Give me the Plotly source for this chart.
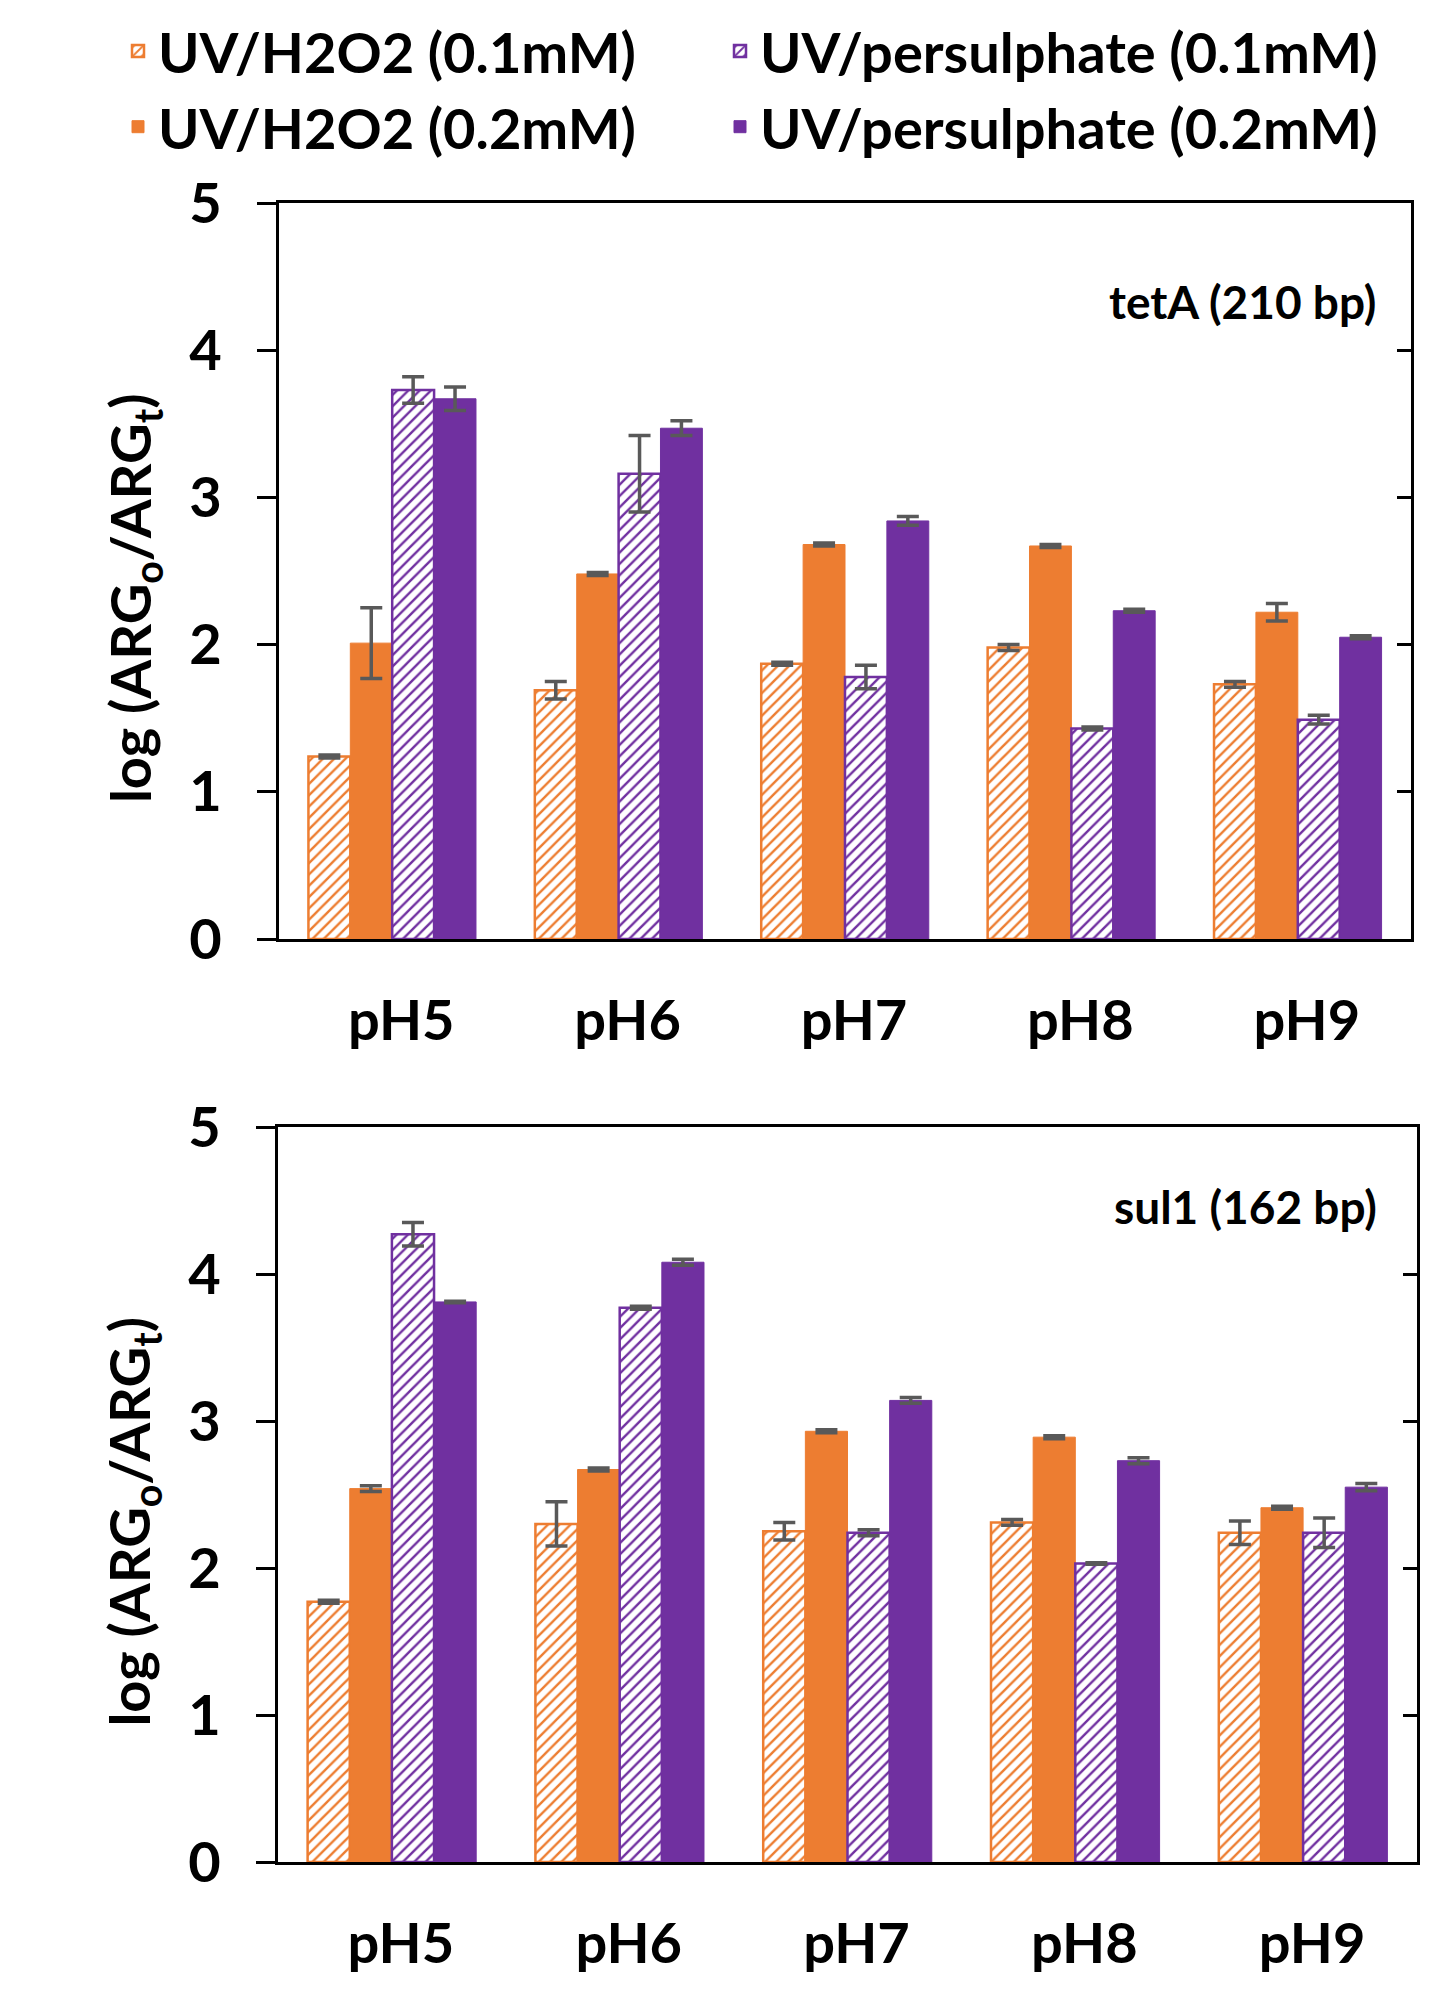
import plotly.graph_objects as go

# ---------------- data ----------------
categories = ["pH5", "pH6", "pH7", "pH8", "pH9"]
series_names = ["UV/H2O2 (0.1mM)", "UV/H2O2 (0.2mM)",
                "UV/persulphate (0.1mM)", "UV/persulphate (0.2mM)"]
panel_labels = ["tetA (210 bp)", "sul1 (162 bp)"]
y_ticks = [0, 1, 2, 3, 4, 5]

# tetA (210 bp)
teta_h2o2_01 = [1.24, 1.69, 1.87, 1.98, 1.73]
teta_h2o2_01_err = [0.01, 0.06, 0.01, 0.02, 0.02]
teta_h2o2_02 = [2.01, 2.48, 2.68, 2.67, 2.22]
teta_h2o2_02_err = [0.24, 0.01, 0.01, 0.01, 0.06]
teta_ps_01 = [3.73, 3.16, 1.78, 1.43, 1.49]
teta_ps_01_err = [0.09, 0.26, 0.08, 0.01, 0.03]
teta_ps_02 = [3.67, 3.47, 2.84, 2.23, 2.05]
teta_ps_02_err = [0.08, 0.05, 0.03, 0.01, 0.01]

# sul1 (162 bp)
sul1_h2o2_01 = [1.77, 2.30, 2.25, 2.31, 2.24]
sul1_h2o2_01_err = [0.01, 0.15, 0.06, 0.02, 0.08]
sul1_h2o2_02 = [2.54, 2.67, 2.93, 2.89, 2.41]
sul1_h2o2_02_err = [0.02, 0.01, 0.01, 0.01, 0.01]
sul1_ps_01 = [4.27, 3.77, 2.24, 2.03, 2.24]
sul1_ps_01_err = [0.08, 0.01, 0.02, 0.005, 0.10]
sul1_ps_02 = [3.81, 4.08, 3.14, 2.73, 2.55]
sul1_ps_02_err = [0.005, 0.02, 0.02, 0.02, 0.025]

# ---------------- style ----------------
ORANGE = "#ED7D31"
PURPLE = "#7030A0"
ERR = "#595959"
FONT = "Lato"
W, H = 1430, 2004
OFF = 8  # page body margin offset compensation (px)


def px_x(p):
    return (p - OFF) / W


def px_y(p):
    return 1 - (p - OFF) / H


fig = go.Figure()


def add_bar(vals, errs, name, color, hatched, xa, ya, legend, show):
    if hatched:
        marker = dict(color="white", line=dict(color=color, width=2.5),
                      pattern=dict(shape="/", fgcolor=color, bgcolor="white",
                                   size=8, solidity=0.3, fillmode="replace"))
    else:
        marker = dict(color=color, line=dict(color=color, width=1))
    fig.add_trace(go.Bar(
        x=categories, y=vals, name=name, marker=marker,
        error_y=dict(type="data", array=errs, visible=True, color=ERR,
                     thickness=3.5, width=11),
        xaxis=xa, yaxis=ya, legend=legend, showlegend=show,
    ))


panels = [
    ("x", "y", [teta_h2o2_01, teta_h2o2_02, teta_ps_01, teta_ps_02],
     [teta_h2o2_01_err, teta_h2o2_02_err, teta_ps_01_err, teta_ps_02_err], True),
    ("x2", "y2", [sul1_h2o2_01, sul1_h2o2_02, sul1_ps_01, sul1_ps_02],
     [sul1_h2o2_01_err, sul1_h2o2_02_err, sul1_ps_01_err, sul1_ps_02_err], False),
]
colors = [ORANGE, ORANGE, PURPLE, PURPLE]
hatches = [True, False, True, False]
legends = ["legend", "legend", "legend2", "legend2"]

for xa, ya, vals_list, err_list, show in panels:
    for i in range(4):
        add_bar(vals_list[i], err_list[i], series_names[i], colors[i], hatches[i],
                xa, ya, legends[i], show)

# empty helper traces so the right-hand frame axes get drawn
for xa, ya in (("x", "y3"), ("x2", "y4")):
    fig.add_trace(go.Scatter(x=[], y=[], xaxis=xa, yaxis=ya, showlegend=False,
                             hoverinfo="skip", mode="markers"))

ytick_font = dict(family=FONT, size=56, color="black", weight="bold")
xtick_font = dict(family=FONT, size=56, color="black", weight="bold")
title_font = dict(family=FONT, size=56, color="black", weight="bold")
YTITLE = "log (ARG<sub>o</sub>/ARG<sub>t</sub>)" + "&nbsp;" * 4


def xaxis_cfg(domain, anchor):
    return dict(domain=domain, anchor=anchor, showline=True, linewidth=3,
                linecolor="black", mirror=True, ticks="", showgrid=False,
                tickfont=xtick_font, ticklabelstandoff=31, ticklabelshift=9,
                automargin=False)


def yaxis_cfg(domain, anchor):
    return dict(domain=domain, anchor=anchor, range=[0, 5], tickvals=y_ticks,
                ticks="outside", ticklen=19, tickwidth=3, tickcolor="black",
                showline=True, linewidth=3, linecolor="black", showgrid=False,
                zeroline=False, tickfont=ytick_font, ticklabelstandoff=24,
                automargin=False,
                title=dict(text=YTITLE, font=title_font, standoff=20))


def yright_cfg(over, anchor):
    return dict(overlaying=over, anchor=anchor, side="right", range=[0, 5],
                tickvals=y_ticks, ticks="inside", ticklen=14, tickwidth=3,
                tickcolor="black", showline=True, linewidth=3, linecolor="black",
                showgrid=False, zeroline=False, showticklabels=False,
                automargin=False)


legend_font = dict(family=FONT, size=56, color="black", weight="bold")

fig.update_layout(
    width=W, height=H,
    margin=dict(l=0, r=0, t=0, b=0, autoexpand=False),
    paper_bgcolor="white", plot_bgcolor="white",
    barmode="group", bargap=0.26, bargroupgap=0,
    xaxis=xaxis_cfg([px_x(279), px_x(1411)], "y"),
    yaxis=yaxis_cfg([px_y(939), px_y(203)], "x"),
    yaxis3=yright_cfg("y", "x"),
    xaxis2=xaxis_cfg([px_x(278), px_x(1417)], "y2"),
    yaxis2=yaxis_cfg([px_y(1862), px_y(1127)], "x2"),
    yaxis4=yright_cfg("y2", "x2"),
    legend=dict(x=px_x(118), y=px_y(8), xanchor="left", yanchor="top",
                orientation="v", font=legend_font, bgcolor="rgba(0,0,0,0)",
                tracegroupgap=0),
    legend2=dict(x=px_x(720), y=px_y(8), xanchor="left", yanchor="top",
                 orientation="v", font=legend_font, bgcolor="rgba(0,0,0,0)",
                 tracegroupgap=0),
    annotations=[
        dict(text=panel_labels[0], xref="paper", yref="paper",
             x=px_x(1378), y=px_y(301), xanchor="right", yanchor="middle",
             showarrow=False,
             font=dict(family=FONT, size=46, color="black", weight="bold")),
        dict(text=panel_labels[1], xref="paper", yref="paper",
             x=px_x(1379), y=px_y(1206), xanchor="right", yanchor="middle",
             showarrow=False,
             font=dict(family=FONT, size=46, color="black", weight="bold")),
    ],
)

fig.write_html("out.html")
